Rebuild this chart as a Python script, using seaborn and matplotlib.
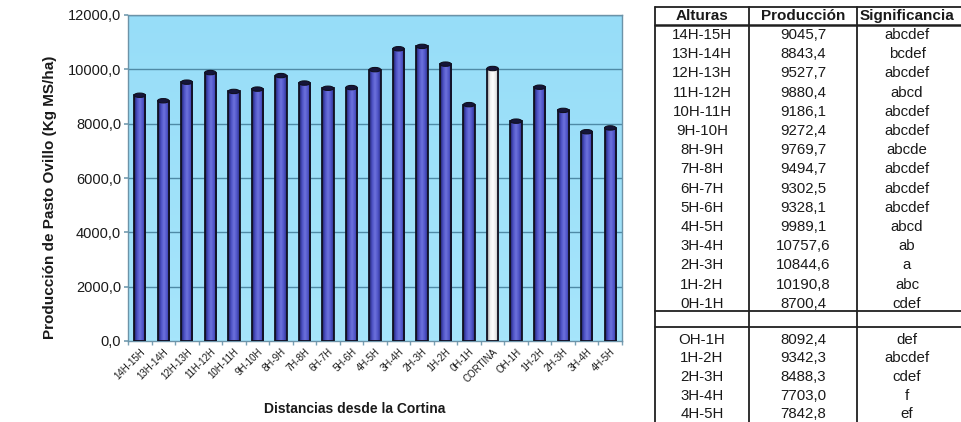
import numpy as np
import pandas as pd
import matplotlib
matplotlib.use("Agg")
import matplotlib.pyplot as plt
from matplotlib.colors import LinearSegmentedColormap
from matplotlib.patches import Ellipse
from matplotlib.ticker import FuncFormatter, FixedLocator
import seaborn as sns

# Producción de pasto ovillo por franja de distancia a la cortina
alturas_barlovento = ["14H-15H", "13H-14H", "12H-13H", "11H-12H", "10H-11H", "9H-10H",
                      "8H-9H", "7H-8H", "6H-7H", "5H-6H", "4H-5H", "3H-4H", "2H-3H",
                      "1H-2H", "0H-1H"]
produccion_barlovento = [9045.7, 8843.4, 9527.7, 9880.4, 9186.1, 9272.4, 9769.7, 9494.7,
                         9302.5, 9328.1, 9989.1, 10757.6, 10844.6, 10190.8, 8700.4]
signif_barlovento = ["abcdef", "bcdef", "abcdef", "abcd", "abcdef", "abcdef", "abcde",
                     "abcdef", "abcdef", "abcdef", "abcd", "ab", "a", "abc", "cdef"]

cortina_label = "CORTINA"
cortina_valor = 10030.0

alturas_sotavento = ["OH-1H", "1H-2H", "2H-3H", "3H-4H", "4H-5H"]
produccion_sotavento = [8092.4, 9342.3, 8488.3, 7703.0, 7842.8]
signif_sotavento = ["def", "abcdef", "cdef", "f", "ef"]

etiquetas = alturas_barlovento + [cortina_label] + alturas_sotavento
valores = produccion_barlovento + [cortina_valor] + produccion_sotavento

df = pd.DataFrame({"pos": np.arange(len(etiquetas)), "Distancia": etiquetas,
                   "Produccion": valores})

sns.set_theme(style="white")
plt.rcParams["font.family"] = ["Liberation Sans", "DejaVu Sans"]

W, H = 962, 422
fig = plt.figure(figsize=(W / 100, H / 100), dpi=100)
fig.patch.set_facecolor("white")

ax = fig.add_axes([128 / W, (H - 341) / H, 494 / W, 326 / H])

# back wall with a soft vertical gradient
wall = LinearSegmentedColormap.from_list("wall", ["#a6e5fb", "#97ddf8"])
ax.imshow(np.linspace(0, 1, 100).reshape(-1, 1), cmap=wall, aspect="auto",
          extent=(-0.5, len(etiquetas) - 0.5, 0, 12200), origin="lower", zorder=0)

bar_colors = ["#4b4fbf"] * len(alturas_barlovento) + ["#f4f4f4"] + ["#4b4fbf"] * len(alturas_sotavento)
sns.barplot(data=df, x="pos", y="Produccion", hue="pos", palette=bar_colors,
            legend=False, width=0.48, edgecolor="#101020", linewidth=1.3,
            saturation=1, ax=ax, zorder=3)

# cylinder shading and top caps
blue_cyl = LinearSegmentedColormap.from_list(
    "cyl", ["#1c1e62", "#4a4fc2", "#6d72dc", "#4f54c8", "#2a2d85"])
white_cyl = LinearSegmentedColormap.from_list(
    "cylw", ["#8a8a8a", "#f0f0f0", "#ffffff", "#e6e6e6", "#a0a0a0"])
grad = np.linspace(0, 1, 64).reshape(1, -1)
for i, patch in enumerate(ax.patches):
    x0, y0 = patch.get_x(), patch.get_y()
    w, h = patch.get_width(), patch.get_height()
    cmap = white_cyl if etiquetas[i] == cortina_label else blue_cyl
    im = ax.imshow(grad, cmap=cmap, aspect="auto", extent=(x0, x0 + w, y0, y0 + h),
                   zorder=3.5)
    im.set_clip_path(patch)
    patch.set_facecolor("none")
    patch.set_zorder(4)
    ax.add_patch(Ellipse((x0 + w / 2, y0 + h), w, 160, facecolor="#15153a",
                         edgecolor="#101020", lw=0.8, zorder=5))

ax.set_xlim(-0.5, len(etiquetas) - 0.5)
ax.set_ylim(0, 12000)
ax.set_yticks(np.arange(0, 12001, 2000))
ax.yaxis.set_major_formatter(FuncFormatter(lambda v, p: f"{v:.1f}".replace(".", ",")))
for gy in np.arange(2000, 12001, 2000):
    ax.axhline(gy, color="#4f8aa6", lw=1.0, zorder=1)

ax.set_xticks(df["pos"])
ax.set_xticklabels(etiquetas, rotation=45, ha="right", rotation_mode="anchor",
                   fontsize=7, color="#1a1a1a")
ax.tick_params(axis="x", length=0, pad=4)
ax.xaxis.set_minor_locator(FixedLocator(np.arange(-0.5, len(etiquetas), 1)))
ax.tick_params(axis="x", which="minor", length=3, color="#7aa0b4", bottom=True)
ax.tick_params(axis="y", length=3, color="#7aa0b4", left=True, labelsize=10.5,
               pad=2, labelcolor="#1a1a1a")

for side in ["left", "bottom", "top", "right"]:
    ax.spines[side].set_visible(True)
    ax.spines[side].set_color("#6c93a8")
    ax.spines[side].set_linewidth(1.0)

ax.set_ylabel("Producción de Pasto Ovillo (Kg MS/ha)", fontsize=11,
              fontweight="bold", color="#1a1a1a")
ax.yaxis.set_label_coords(-71 / 494, 0.44)
ax.set_xlabel("Distancias desde la Cortina", fontsize=10, fontweight="bold",
              color="#1a1a1a")
ax.xaxis.set_label_coords(227 / 494, -61 / 326)

# table of values
tab = fig.add_axes([0, 0, 1, 1], facecolor="none")
tab.set_xlim(0, W)
tab.set_ylim(H, 0)
tab.axis("off")

col_x = [702, 803, 907]
line_kw = dict(color="#202020", lw=1.3)
tab.plot([655, 962], [7, 7], **line_kw)
tab.plot([655, 962], [25, 25], color="#202020", lw=1.8)
tab.plot([655, 962], [311, 311], **line_kw)
tab.plot([655, 962], [327, 327], **line_kw)
for vx in [655, 749, 857]:
    tab.plot([vx, vx], [7, 422], **line_kw)

txt_kw = dict(ha="center", va="center", fontsize=10.8, color="#1a1a1a")
for x, t in zip(col_x, ["Alturas", "Producción", "Significancia"]):
    tab.text(x, 16, t, fontweight="bold", **{**txt_kw, "fontsize": 11})

for i, (a, p, s) in enumerate(zip(alturas_barlovento, produccion_barlovento,
                                  signif_barlovento)):
    y = 35 + i * 19.2
    tab.text(col_x[0], y, a, **txt_kw)
    tab.text(col_x[1], y, f"{p:.1f}".replace(".", ","), **txt_kw)
    tab.text(col_x[2], y, s, **txt_kw)

for i, (a, p, s) in enumerate(zip(alturas_sotavento, produccion_sotavento,
                                  signif_sotavento)):
    y = 340 + i * 18.5
    tab.text(col_x[0], y, a, **txt_kw)
    tab.text(col_x[1], y, f"{p:.1f}".replace(".", ","), **txt_kw)
    tab.text(col_x[2], y, s, **txt_kw)

fig.savefig("out.png", dpi=100, facecolor="white")
